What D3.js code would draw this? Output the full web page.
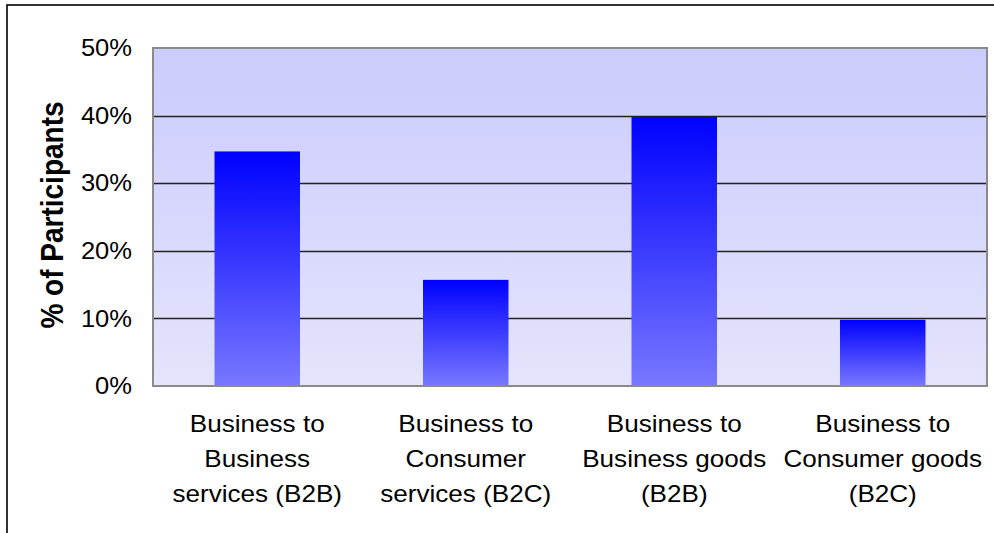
<!DOCTYPE html>
<html>
<head>
<meta charset="utf-8">
<script src="https://cdn.jsdelivr.net/npm/d3@7/dist/d3.min.js"></script>
<style>
  html, body { margin: 0; padding: 0; background: #ffffff; }
  svg { display: block; }
  text { font-family: Arial, "Liberation Sans", sans-serif; fill: #000; }
</style>
</head>
<body>
<svg id="chart" width="994" height="533"></svg>
<script>
// Share of participants by business type
const categories = [
  ["Business to", "Business", "services (B2B)"],
  ["Business to", "Consumer", "services (B2C)"],
  ["Business to", "Business goods", "(B2B)"],
  ["Business to", "Consumer goods", "(B2C)"]
];
const shares = [0.347, 0.157, 0.398, 0.098];
const tickValues = [0, 0.1, 0.2, 0.3, 0.4, 0.5];
const axisTitle = "% of Participants";

const svg = d3.select("#chart");
const W = 994, H = 533;
const plot = { left: 153, right: 987, top: 48, bottom: 386 };
const stretch = 1.11;   // text is drawn slightly wide

const x = d3.scaleBand()
  .domain(d3.range(categories.length))
  .range([plot.left, plot.right])
  .paddingInner(0.59)
  .paddingOuter(0.295);

const y = d3.scaleLinear().domain([0, 0.5]).range([plot.bottom, plot.top]);

const defs = svg.append("defs");
const bg = defs.append("linearGradient").attr("id", "plotBg")
  .attr("x1", 0).attr("y1", 0).attr("x2", 0).attr("y2", 1);
bg.append("stop").attr("offset", "0%").attr("stop-color", "#cbcbfd");
bg.append("stop").attr("offset", "100%").attr("stop-color", "#e4e4fd");

const barGrad = defs.append("linearGradient").attr("id", "barFill")
  .attr("x1", 0).attr("y1", 0).attr("x2", 0).attr("y2", 1);
barGrad.append("stop").attr("offset", "0%").attr("stop-color", "#0000ff");
barGrad.append("stop").attr("offset", "100%").attr("stop-color", "#7878ff");

// outer chart frame (only its top and left edges fall inside the view)
svg.append("rect")
  .attr("x", 7).attr("y", 5)
  .attr("width", W).attr("height", H)
  .attr("fill", "none").attr("stroke", "#000").attr("stroke-width", 1.6);

// plot area
svg.append("rect")
  .attr("x", plot.left).attr("y", plot.top)
  .attr("width", plot.right - plot.left).attr("height", plot.bottom - plot.top)
  .attr("fill", "url(#plotBg)");

// gridlines
svg.append("g")
  .selectAll("line")
  .data(tickValues.filter(v => v > 0 && v < 0.5))
  .join("line")
  .attr("x1", plot.left).attr("x2", plot.right)
  .attr("y1", d => Math.round(y(d)) + 0.5).attr("y2", d => Math.round(y(d)) + 0.5)
  .attr("stroke", "#222").attr("stroke-width", 1.3);

// bars
svg.append("g")
  .selectAll("rect")
  .data(shares)
  .join("rect")
  .attr("x", (d, i) => x(i))
  .attr("width", x.bandwidth())
  .attr("y", d => y(d))
  .attr("height", d => y(0) - y(d))
  .attr("fill", "url(#barFill)");

// plot border
svg.append("rect")
  .attr("x", plot.left).attr("y", plot.top)
  .attr("width", plot.right - plot.left).attr("height", plot.bottom - plot.top)
  .attr("fill", "none").attr("stroke", "#8a8a8a").attr("stroke-width", 2);

// y axis labels (right-aligned, widened)
const yg = svg.append("g");
yg.selectAll("text")
  .data(tickValues)
  .join("text")
  .attr("transform", d => `translate(132,${y(d)}) scale(${stretch},1)`)
  .attr("text-anchor", "end")
  .attr("dy", "0.36em")
  .attr("font-size", 23)
  .text(d3.format(".0%"));

// y axis title
svg.append("text")
  .attr("transform", `translate(63,${(plot.top + plot.bottom) / 2 - 2}) scale(${stretch},1) rotate(-90)`)
  .attr("text-anchor", "middle")
  .attr("font-size", 28)
  .attr("font-weight", "bold")
  .text(axisTitle);

// category labels
const xg = svg.append("g");
categories.forEach((lines, i) => {
  const cx = x(i) + x.bandwidth() / 2;
  const t = xg.append("text")
    .attr("transform", `translate(${cx},0) scale(${stretch},1)`)
    .attr("text-anchor", "middle").attr("font-size", 23.5);
  lines.forEach((ln, j) => {
    t.append("tspan").attr("x", 0).attr("y", 432 + j * 35).text(ln);
  });
});
</script>
</body>
</html>
